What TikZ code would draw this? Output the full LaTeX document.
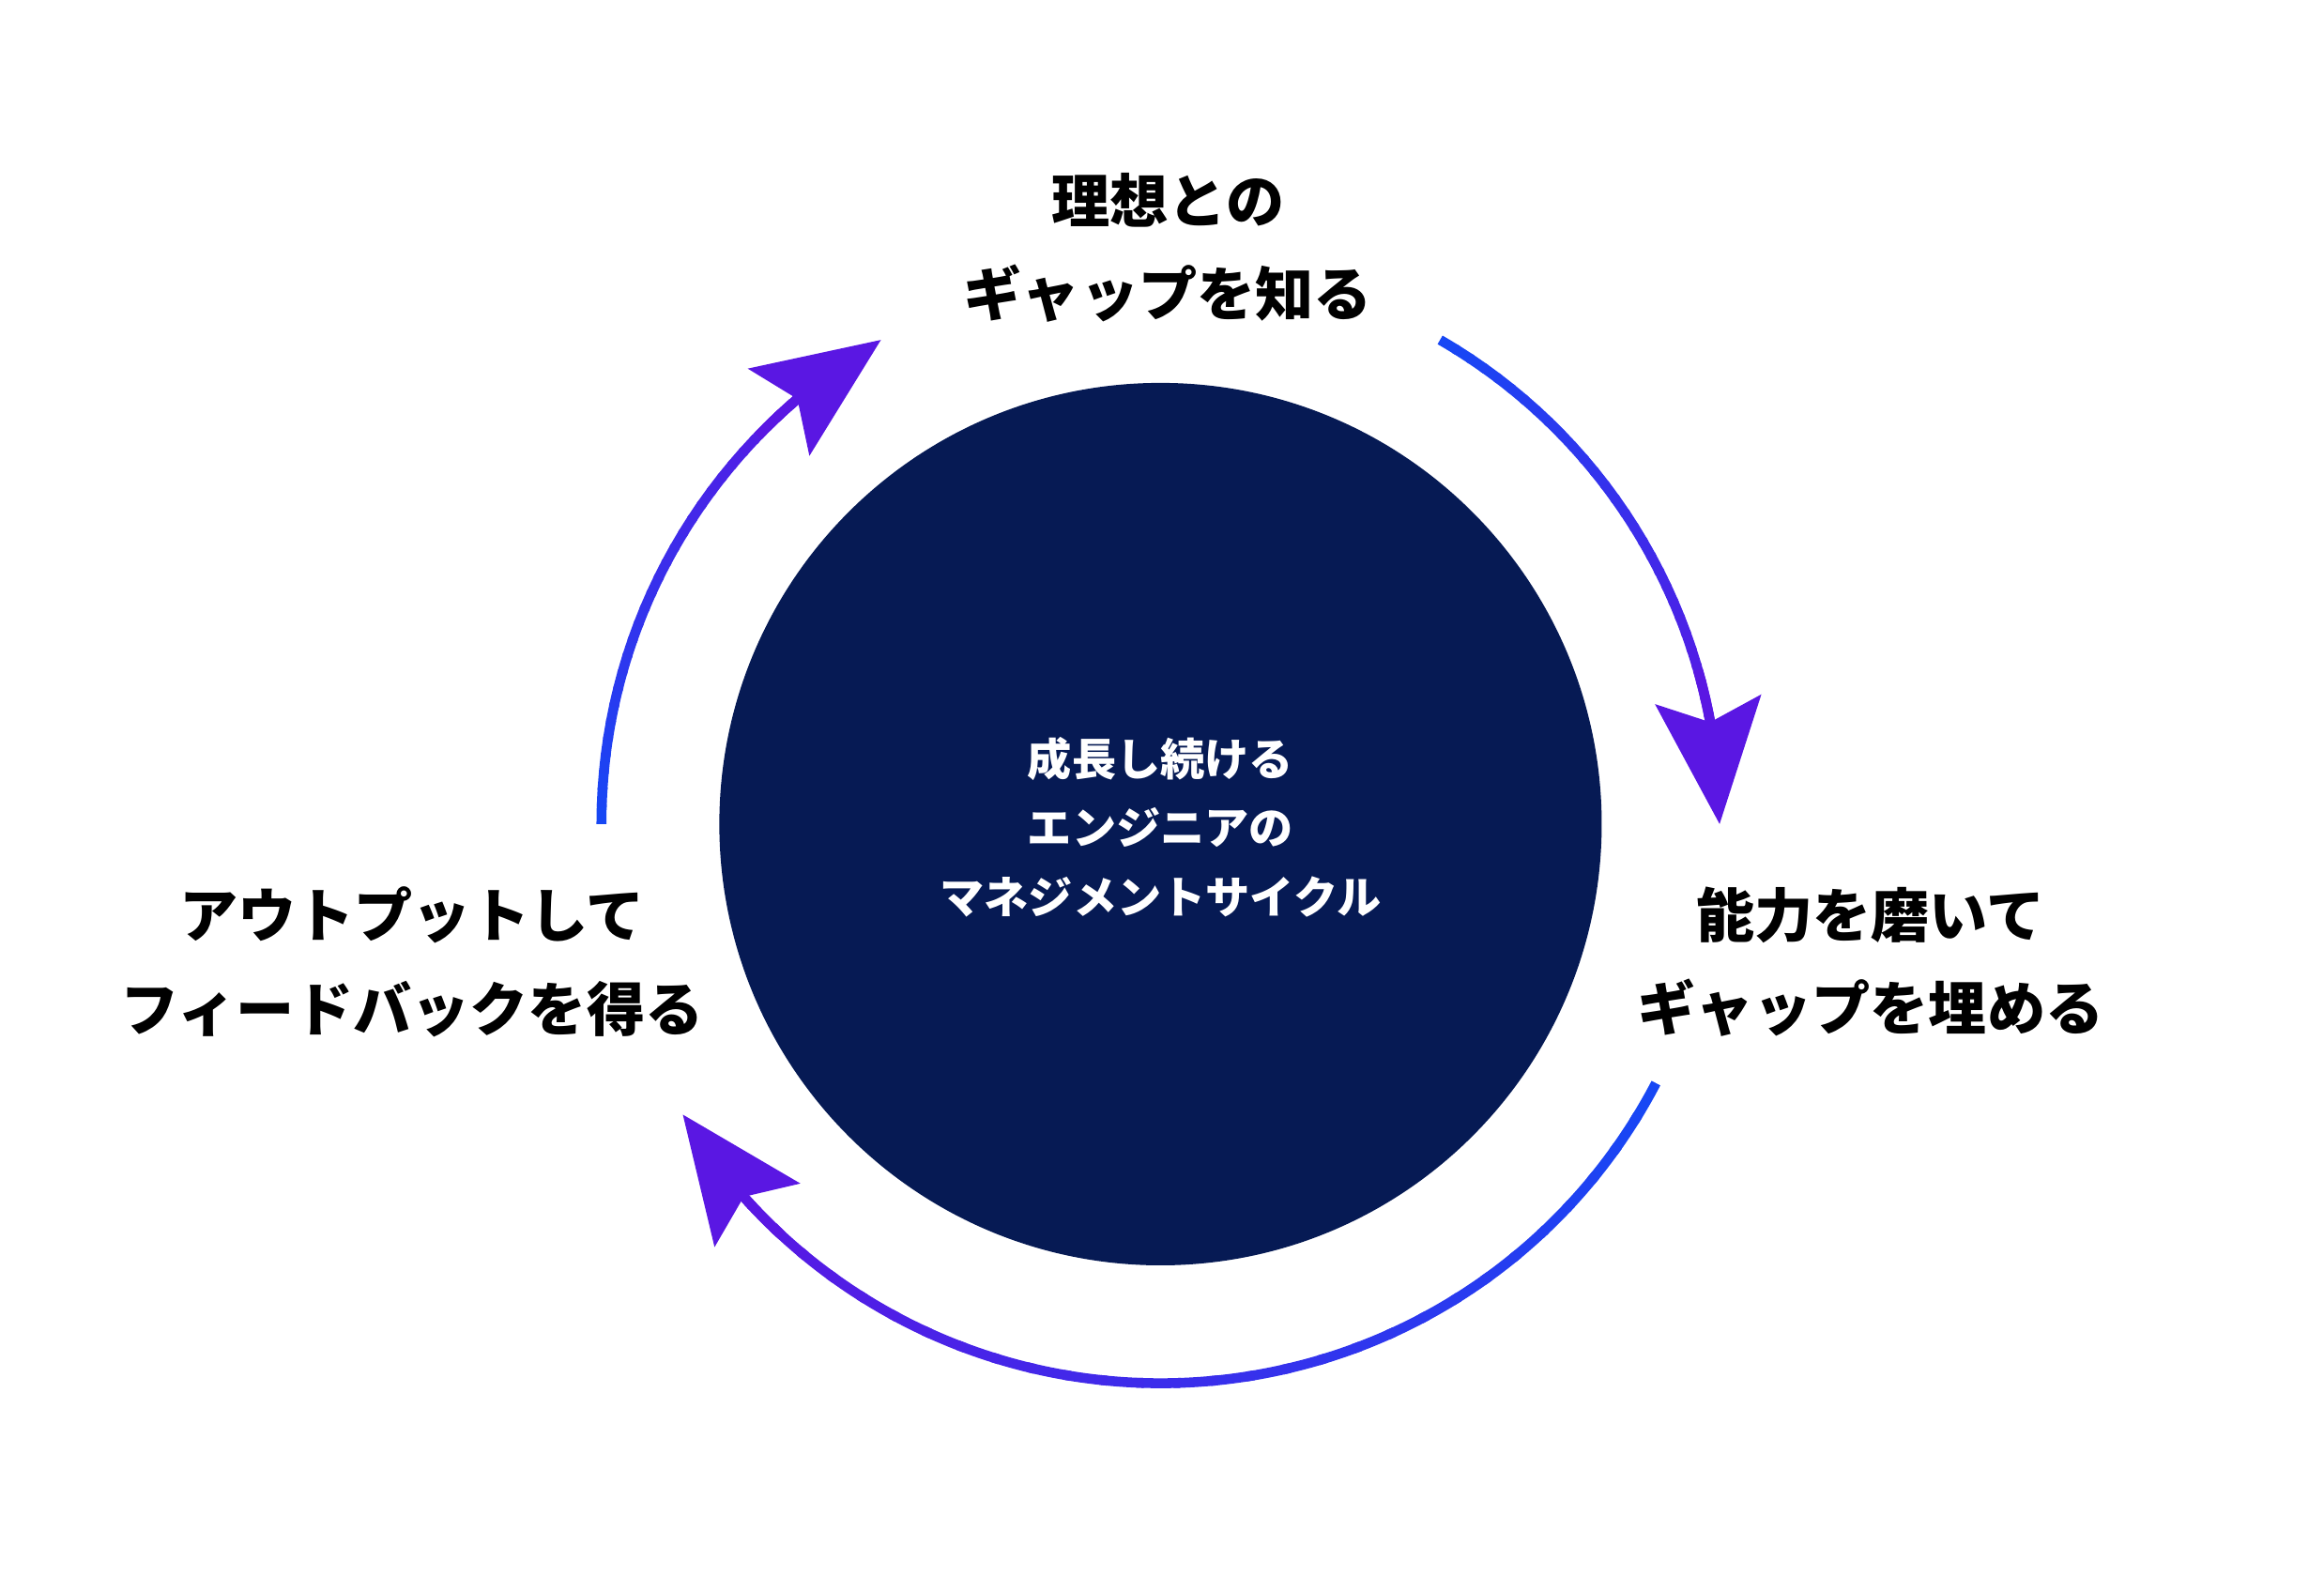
\documentclass[tikz,border=0pt]{standalone}
\usepackage{fontspec}
\usepackage{tikz}
\usetikzlibrary{arrows.meta,bending}
\newfontfamily\jpfont{Noto Sans CJK JP}
\definecolor{coreblue}{HTML}{061A54}
\definecolor{arcblue}{HTML}{1747F4}
\definecolor{arcviolet}{HTML}{5A17E3}

\begin{document}
\begin{tikzpicture}[x=0.01cm,y=-0.01cm,
  steptext/.style={align=center,font=\jpfont\bfseries\fontsize{11.2}{17.9}\selectfont},
  coretext/.style={align=center,text=white,font=\jpfont\bfseries\fontsize{8.5}{13.2}\selectfont},
  arcline/.style={line width=1.9pt},
  ]
  \newcommand{\arcrad}{3.77cm}
  % shaft from #1 to near #2 in small pieces, colour from blue to violet
  \newcommand{\cyclearrow}[2]{
    \foreach \i in {0,...,29}{
      \pgfmathsetmacro{\a}{#1+(#2+8-#1)*\i/30}
      \pgfmathsetmacro{\b}{#1+(#2+8-#1)*(\i+1.2)/30}
      \pgfmathsetmacro{\p}{100*\i/29}
      \draw[arcline,arcviolet!\p!arcblue]
        ([shift={(\a:\arcrad)}]core.center) arc[start angle=\a,end angle=\b,radius=\arcrad];
    }
    \draw[arcline,arcviolet,-{Stealth[length=0.84cm,width=0.71cm,inset=0.15cm]}]
      ([shift={(#2+16:\arcrad)}]core.center) arc[start angle=#2+16,end angle=#2,radius=\arcrad];
  }

  \useasboundingbox (0,0) rectangle (1568,1074);

  \node[circle,fill=coreblue,minimum size=5.95cm,inner sep=0pt] (core) at (783,556) {};
  \node[coretext] (title) at (783,558) {成長し続ける\\エンジニアの\\マネジメントサイクル};

  \node[steptext] (know) at (788,167) {理想との\\ギャップを知る};
  \node[steptext] (fill) at (1262,649) {能力を磨いて\\ギャップを埋める};
  \node[steptext] (feedback) at (278,649) {アウトプットして\\フィードバックを得る};

  \cyclearrow{60}{0}
  \cyclearrow{-27.6}{-148.7}
  \cyclearrow{180}{120}
\end{tikzpicture}
\end{document}
